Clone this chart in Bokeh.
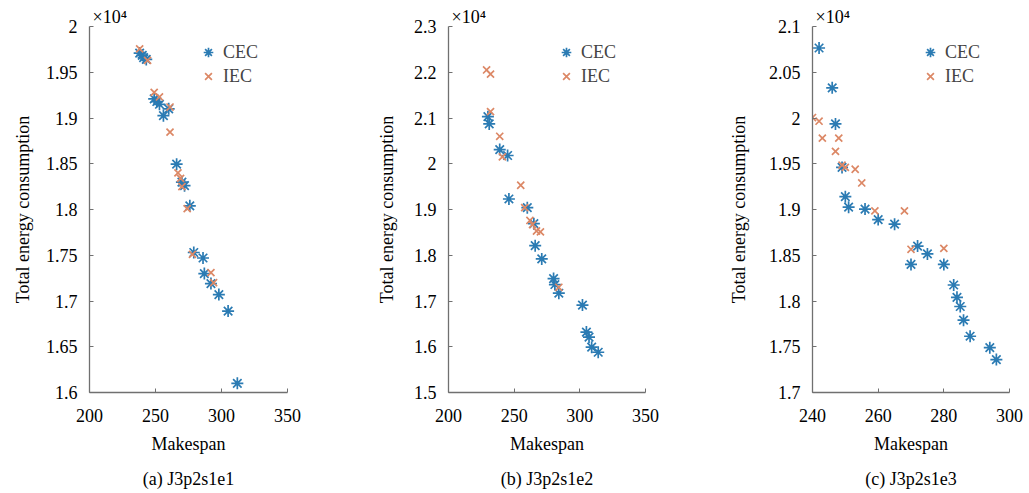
import numpy as np
from bokeh.plotting import figure
from bokeh.layouts import row
from bokeh.models import Range1d, FixedTicker, NumeralTickFormatter, Title
from bokeh.embed import file_html
from bokeh.resources import INLINE

# ---------------- data (energy in raw units; axis shows x10^4) ----------------
a_cec_makespan = [238, 240, 241, 243, 249, 251, 253, 256, 260, 266, 270, 272, 276, 279, 286, 287, 292, 298, 305, 312]
a_cec_energy = [19710, 19685, 19660, 19640, 19210, 19180, 19150, 19025, 19100, 18495, 18300, 18260, 18040,
                17530, 17470, 17300, 17190, 17070, 16890, 16100]
a_iec_makespan = [238, 244, 249, 253, 261, 261, 267, 269, 270, 274, 278, 292, 294]
a_iec_energy = [19755, 19630, 19280, 19230, 19120, 18845, 18400, 18340, 18250, 18010, 17510, 17310, 17200]

b_cec_makespan = [230, 231, 239, 245, 246, 260, 265, 266, 271, 280, 281, 284, 302, 305, 307, 309, 314]
b_cec_energy = [21030, 20870, 20310, 20180, 19230, 19040, 18690, 18210, 17920, 17490, 17360, 17170,
                16910, 16320, 16210, 15990, 15880]
b_iec_makespan = [229, 232, 232, 239, 241, 255, 258, 262, 264, 267, 270, 284]
b_iec_energy = [22050, 21960, 21140, 20600, 20150, 19530, 19040, 18760, 18670, 18530, 18510, 17300]

c_cec_makespan = [242, 246, 247, 249, 250, 251, 256, 260, 265, 270, 272, 275, 280, 283, 284, 285, 286, 288, 294, 296]
c_cec_energy = [20765, 20330, 19935, 19460, 19140, 19025, 19005, 18890, 18840, 18400, 18600, 18515, 18400,
                18175, 18040, 17940, 17790, 17615, 17490, 17360]
c_iec_makespan = [240, 242, 243, 247, 248, 249, 250, 253, 255, 259, 268, 270, 280]
c_iec_energy = [20005, 19965, 19780, 19635, 19780, 19485, 19460, 19440, 19290, 18985, 18985, 18565, 18575]

a_xticks = [200, 250, 300, 350]
a_yticks = [1.6, 1.65, 1.7, 1.75, 1.8, 1.85, 1.9, 1.95, 2.0]
b_xticks = [200, 250, 300, 350]
b_yticks = [1.5, 1.6, 1.7, 1.8, 1.9, 2.0, 2.1, 2.2, 2.3]
c_xticks = [240, 260, 280, 300]
c_yticks = [1.7, 1.75, 1.8, 1.85, 1.9, 1.95, 2.0, 2.05, 2.1]

captions = ["(a) J3p2s1e1", "(b) J3p2s1e2", "(c) J3p2s1e3"]
x_label = "Makespan"
y_label = "Total energy consumption"
multiplier = "×10⁴"

SCALE = 1e4
FONT = "Liberation Serif"
CEC_COLOR = "#2b7bb3"
IEC_COLOR = "#dc8866"
AXIS_COLOR = "#707070"


def make_panel(cec_x, cec_y, iec_x, iec_y, xticks, yticks, caption,
               left, right, ylab_standoff):
    p = figure(width=343, height=493, output_backend="svg", toolbar_location=None,
               x_range=Range1d(xticks[0], xticks[-1]), y_range=Range1d(yticks[0], yticks[-1]),
               min_border_left=left, min_border_right=right, min_border_top=26, min_border_bottom=100)
    p.outline_line_color = None
    p.grid.visible = False
    p.background_fill_color = "white"
    p.border_fill_color = "white"

    p.scatter(cec_x, np.array(cec_y) / SCALE, marker="asterisk", size=12, line_width=1.7,
              line_color=CEC_COLOR, legend_label="CEC")
    p.scatter(iec_x, np.array(iec_y) / SCALE, marker="x", size=10, line_width=1.7,
              line_color=IEC_COLOR, legend_label="IEC")

    for ax in (p.xaxis[0], p.yaxis[0]):
        ax.axis_line_color = AXIS_COLOR
        ax.axis_line_width = 1.3
        ax.major_tick_line_color = AXIS_COLOR
        ax.major_tick_in = 4
        ax.major_tick_out = 0
        ax.minor_tick_line_color = None
        ax.major_label_text_font = FONT
        ax.major_label_text_font_size = "18px"
        ax.major_label_text_color = "black"

    p.xaxis.ticker = FixedTicker(ticks=xticks)
    p.yaxis.ticker = FixedTicker(ticks=yticks)
    p.yaxis.formatter = NumeralTickFormatter(format="0.[00]")
    p.xaxis.major_label_standoff = 16
    p.yaxis.major_label_standoff = 12

    def ttl(text, standoff, offset=0, align="center"):
        return Title(text=text, align=align, text_font=FONT, text_font_size="18px",
                     text_font_style="normal", text_color="black", standoff=standoff, offset=offset)

    p.add_layout(ttl(x_label, 15), "below")
    p.add_layout(ttl(caption, 10), "below")
    p.add_layout(ttl(y_label, ylab_standoff), "left")
    p.add_layout(ttl(multiplier, 0, offset=3, align="left"), "above")

    lg = p.legend[0]
    lg.location = "top_right"
    lg.border_line_color = None
    lg.background_fill_alpha = 0
    lg.label_text_font = FONT
    lg.label_text_font_size = "18px"
    lg.glyph_width = 24
    lg.glyph_height = 24
    lg.label_height = 22
    lg.label_width = 50
    lg.spacing = 0
    lg.padding = 2
    lg.margin = 14
    lg.label_standoff = 3
    return p


pa = make_panel(a_cec_makespan, a_cec_energy, a_iec_makespan, a_iec_energy, a_xticks, a_yticks,
                captions[0], 89, 56, 19)
pb = make_panel(b_cec_makespan, b_cec_energy, b_iec_makespan, b_iec_energy, b_xticks, b_yticks,
                captions[1], 105, 41, 27)
pc = make_panel(c_cec_makespan, c_cec_energy, c_iec_makespan, c_iec_energy, c_xticks, c_yticks,
                captions[2], 126, 20, 34)

layout = row(pa, pb, pc)
open("out.html", "w").write(file_html(layout, INLINE))
